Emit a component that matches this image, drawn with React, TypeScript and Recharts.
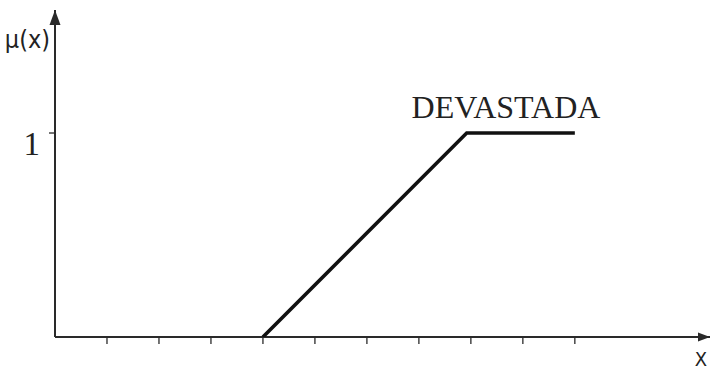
import React from 'react';
import { ComposedChart, Line, XAxis, YAxis, ReferenceLine, Customized } from 'recharts';

// Membership function of the fuzzy set "DEVASTADA"
const xPoints = [4, 7.92, 10];
const membership = [0, 1, 1];
const xTicks = [1, 2, 3, 4, 5, 6, 7, 8, 9, 10];
const yTicks = [1];
const setName = 'DEVASTADA';
const yTitle = 'μ(x)';
const xTitle = 'X';

const X_MAX = 12.6;
const Y_MAX = 1.603;

const data = xPoints.map((x, i) => ({ x, mu: membership[i] }));

const AXIS_COLOR = '#2a2a2a';

const ArrowAxis = (dir: 'up' | 'right') => (props: any) => {
  const { x1, y1, x2, y2 } = props;
  const head =
    dir === 'up'
      ? `${x2},${y2} ${x2 - 5.5},${y2 + 15} ${x2 + 5.5},${y2 + 15}`
      : `${x2},${y2} ${x2 - 12},${y2 - 4.5} ${x2 - 12},${y2 + 4.5}`;
  return (
    <g>
      <line x1={x1} y1={y1} x2={x2} y2={y2} stroke={AXIS_COLOR} strokeWidth={2} />
      <polygon points={head} fill={AXIS_COLOR} />
    </g>
  );
};

const YTick = (props: any) => {
  const { y, payload } = props;
  return (
    <text
      x={40}
      y={y + 22}
      textAnchor="end"
      fontFamily="'Liberation Serif', 'DejaVu Serif', serif"
      fontSize={33}
      fill="#222"
    >
      {payload.value}
    </text>
  );
};

const Titles = () => (
  <g>
    <text
      x={50}
      y={48}
      textAnchor="end"
      fontFamily="'Liberation Sans Narrow', 'DejaVu Sans Condensed', 'Liberation Sans', sans-serif"
      fontSize={25}
      fill="#222"
    >
      {yTitle}
    </text>
    <text
      x={707}
      y={366}
      textAnchor="end"
      fontFamily="'Liberation Sans Narrow', 'DejaVu Sans Condensed', 'Liberation Sans', sans-serif"
      fontSize={20}
      fill="#222"
    >
      {xTitle}
    </text>
    <text
      x={506}
      y={118}
      textAnchor="middle"
      fontFamily="'Liberation Serif', 'DejaVu Serif', serif"
      fontSize={32}
      fill="#222"
    >
      {setName}
    </text>
  </g>
);

export default function App() {
  return (
    <div style={{ position: 'absolute', left: 0, top: 0, background: '#fff' }}>
      <ComposedChart
        width={710}
        height={370}
        data={data}
        margin={{ top: 10, right: 0, bottom: 0, left: 0 }}
      >
        <XAxis
          dataKey="x"
          type="number"
          domain={[0, X_MAX]}
          ticks={xTicks}
          allowDataOverflow
          axisLine={false}
          tickLine={{ stroke: AXIS_COLOR, strokeWidth: 1.3 }}
          tickSize={7}
          tick={() => <g />}
          height={33}
        />
        <YAxis
          type="number"
          domain={[0, Y_MAX]}
          ticks={yTicks}
          allowDataOverflow
          axisLine={false}
          tickLine={{ stroke: AXIS_COLOR, strokeWidth: 1.3 }}
          tickSize={6}
          tick={<YTick />}
          width={55}
        />
        <ReferenceLine
          segment={[{ x: 0, y: 0 }, { x: 0, y: Y_MAX }]}
          ifOverflow="visible"
          shape={ArrowAxis('up')}
        />
        <ReferenceLine
          segment={[{ x: 0, y: 0 }, { x: X_MAX, y: 0 }]}
          ifOverflow="visible"
          shape={ArrowAxis('right')}
        />
        <Line
          dataKey="mu"
          type="linear"
          stroke="#111"
          strokeWidth={3.6}
          dot={false}
          isAnimationActive={false}
        />
        <Customized component={Titles} />
      </ComposedChart>
    </div>
  );
}
